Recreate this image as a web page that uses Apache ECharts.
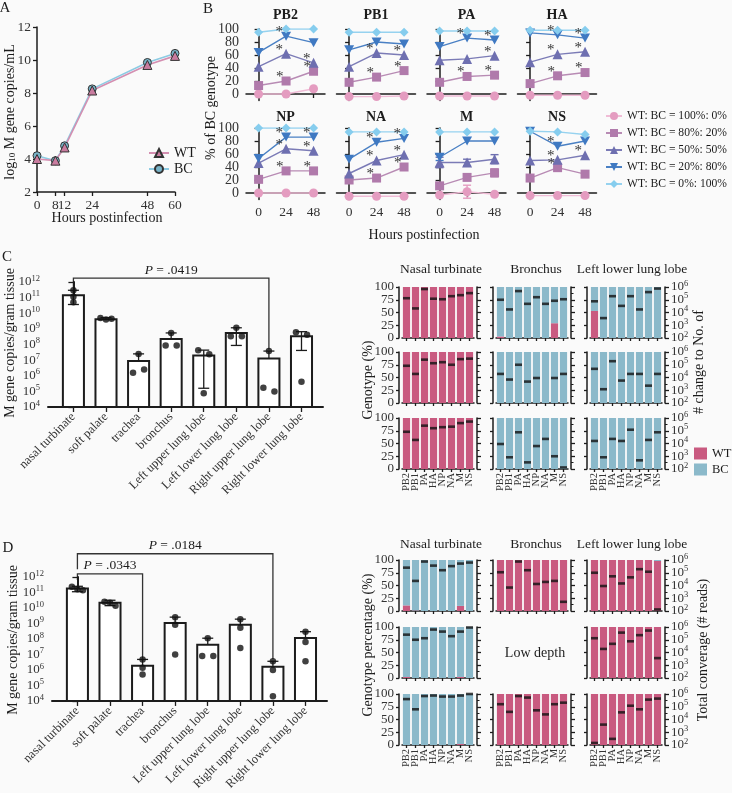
<!DOCTYPE html>
<html>
<head>
<meta charset="utf-8">
<script src="https://cdn.jsdelivr.net/npm/echarts@6/dist/echarts.min.js"></script>
<style>
  html, body { margin: 0; background: #fafafa; }
  #fig { width: 732px; height: 793px; }
</style>
</head>
<body>
<div id="fig"></div>
<script>
const FONT = '"Liberation Serif", "DejaVu Serif", serif';
const INK = "#1c1c1c";
const PINK = "#c95a80";
const BLUE = "#8bb9ca";

// ---- panel A: viral load over time ----
const aHours = [0, 8, 12, 24, 48, 60];
const aWT = [4.0, 3.9, 4.7, 8.15, 9.7, 10.25];
const aBC = [4.2, 3.9, 4.8, 8.25, 9.85, 10.4];
const aTicksY = [2, 4, 6, 8, 10, 12];

// ---- panel B: % of BC genotype per gene segment ----
const bHours = [0, 24, 48];
const bGenes = ["PB2", "PB1", "PA", "HA", "NP", "NA", "M", "NS"];
const bMixes = ["WT: BC = 100%: 0%", "WT: BC = 80%: 20%", "WT: BC = 50%: 50%", "WT: BC = 20%: 80%", "WT: BC = 0%: 100%"];
const bPctTicks = [0, 20, 40, 60, 80, 100];
const bPB2 = [[0, 0, 8], [13, 20, 35], [42, 62, 48], [64, 89, 79], [95, 100, 100]];
const bPB1 = [[-4, -4, -3], [18, 26, 36], [42, 63, 60], [68, 80, 77], [95, 95, 95]];
const bPA = [[-3, -3, -3], [18, 27, 29], [52, 54, 59], [73, 86, 83], [97, 97, 97]];
const bHA = [[-2, -2, -2], [16, 28, 33], [49, 61, 65], [94, 91, 86], [98, 98, 98]];
const bNP = [[0, 0, 0], [21, 34, 34], [46, 68, 65], [53, 86, 86], [100, 100, 100]];
const bNA = [[-5, -5, -5], [20, 23, 40], [30, 50, 59], [52, 78, 84], [94, 94, 94]];
const bM = [[-3, 2, -2], [11, 24, 31], [47, 47, 52], [55, 80, 80], [94, 94, 94]];
const bNS = [[-4, -4, -4], [23, 39, 29], [50, 51, 58], [95, 72, 80], [95, 94, 90]];
const bMErr = [[0, 10, 0], [0, 0, 6], [8, 5, 7], [5, 0, 0], [0, 0, 0]];
// significant points as [series, time index]
const bStars = [
  [[3, 1], [2, 1], [2, 2], [1, 1], [1, 2]],
  [[2, 1], [2, 2], [1, 1], [1, 2]],
  [[3, 1], [3, 2], [2, 2], [1, 1], [1, 2]],
  [[3, 1], [3, 2], [2, 1], [2, 2], [1, 1], [1, 2]],
  [[3, 1], [3, 2], [2, 1], [2, 2], [1, 1], [1, 2]],
  [[3, 1], [3, 2], [2, 1], [2, 2], [1, 1], [1, 2]],
  [],
  [[3, 1], [2, 1], [2, 2], [1, 1]]
];

// ---- panels C / D: tissue loads (log10 copies per gram) ----
const tissues = ["nasal turbinate", "soft palate", "trachea", "bronchus", "Left upper lung lobe", "Left lower lung lobe", "Right upper lung lobe", "Right lower lung lobe"];
const logTicks = [4, 5, 6, 7, 8, 9, 10, 11, 12];
const cMean = [11.15, 9.62, 6.95, 8.36, 7.3, 8.74, 7.1, 8.53];
const cHi = [11.47, 9.72, 7.4, 8.74, 7.64, 9.07, 7.58, 8.82];
const cLo = [10.56, null, null, null, 5.2, 7.94, null, 7.62];
const cDots = [[11.47, 11.05, 10.7], [9.7, 9.6, 9.65], [7.4, 6.2, 6.4], [8.74, 7.94, 7.94], [7.64, 7.37, 4.88], [9.07, 8.53, 8.53], [7.58, 5.24, 4.99], [8.78, 8.63, 5.62]];
const dMean = [11.26, 10.34, 6.28, 9.03, 7.63, 8.92, 6.2, 8.07];
const dHi = [11.4, 10.5, 6.68, 9.41, 8.05, 9.28, 6.56, 8.47];
const dLo = [11.05, 10.15, null, null, null, null, null, null];
const dDots = [[11.37, 11.21, 11.15], [10.4, 10.34, 10.15], [6.68, 6.15, 5.7], [9.41, 8.92, 7.0], [8.05, 6.9, 6.9], [9.28, 8.73, 7.41], [6.56, 6.0, 4.3], [8.47, 7.8, 6.56]];

// ---- genotype stacks: WT % and log10 coverage per segment ----
const segs = ["PB2", "PB1", "PA", "HA", "NP", "NA", "M", "NS"];
const seqTissues = ["Nasal turbinate", "Bronchus", "Left lower lung lobe"];
const pctTicks = [0, 25, 50, 75, 100];
const covTicks = [2, 3, 4, 5, 6];
const ALL = [100, 100, 100, 100, 100, 100, 100, 100];
const NONE = [0, 0, 0, 0, 0, 0, 0, 0];
const cWt1 = [ALL, [3, 0, 0, 0, 0, 0, 29, 0], [53, 0, 0, 0, 0, 0, 0, 0]];
const cWt2 = [ALL, NONE, NONE];
const cWt3 = [ALL, NONE, NONE];
const cCov1 = [[5.12, 4.32, 5.84, 5.08, 5.04, 5.28, 5.36, 5.52], [5.0, 4.24, 5.68, 4.68, 5.2, 4.68, 4.92, 5.04], [4.88, 3.56, 5.28, 4.52, 5.28, 4.24, 5.6, 5.88]];
const cCov2 = [[4.92, 4.28, 5.4, 5.12, 5.2, 5.0, 5.44, 5.48], [4.28, 3.84, 5.0, 3.68, 3.96, null, 3.96, 4.28], [4.68, 3.08, 5.28, 3.76, 4.28, 4.28, 3.36, 4.28]];
const cCov3 = [[4.92, 4.28, 5.4, 5.2, 5.28, 5.32, 5.6, 5.72], [3.96, 2.92, 4.88, 2.52, 3.8, 4.36, 3.0, 2.12], [4.2, 2.92, 4.36, 4.2, 5.08, 2.68, 4.28, 4.88]];
const dWt1 = [[11, 1, 0, 0, 0, 0, 10, 0], ALL, [100, 100, 100, 100, 100, 100, 100, 98]];
const dWt2 = [[2, 0, 0, 0, 0, 0, 2, 0], null, ALL];
const dWt3 = [[0, 0, 0, 0, 0, 0, 2, 0], ALL, ALL];
const dCov1 = [[5.4, 4.36, 5.88, 5.56, 5.2, 5.52, 5.72, 5.8], [5.04, 3.84, 5.88, 5.2, 4.12, 4.28, 4.36, 2.72], [5.0, 3.96, 4.72, 4.16, 4.64, 5.28, 5.08, 2.12]];
const dCov2 = [[5.4, 5.0, 5.12, 5.8, 5.64, 5.28, 5.64, 5.96], null, [5.12, 4.28, 4.68, 5.56, 4.88, 5.36, 5.72, 3.56]];
const dCov3 = [[5.6, 4.8, 5.84, 5.88, 5.8, 5.8, 5.88, 6.0], [5.2, 4.6, 5.84, 5.72, 4.72, 4.4, 5.2, 5.32], [2.16, 3.6, 2.48, 4.56, 5.08, 4.8, 5.56, 5.64]];

const grids = [], xAxes = [], yAxes = [], series = [], graphics = [];
// y tick labels are placed by hand after layout: [yAxisIndex, x, align, values, size, power?]
const yLabelJobs = [];

const axLine = { show: true, lineStyle: { color: INK, width: 1.5 } };
function tick(len, extra) { return Object.assign({ show: true, length: len, lineStyle: { color: INK, width: 1.3 } }, extra || {}); }
function lab(show, size, extra) {
  return Object.assign({ show, color: "#333", fontFamily: FONT, fontSize: size, showMinLabel: true, showMaxLabel: true }, extra || {});
}
const noLabel = { show: false };

function txt(x, y, text, opt) {
  opt = opt || {};
  graphics.push({
    type: "text", x, y, rotation: opt.rot || 0, silent: true,
    style: { text, fontFamily: FONT, fontSize: opt.size || 14, fontWeight: opt.bold ? "bold" : "normal",
      fill: opt.fill || INK, align: opt.align || "center", verticalAlign: "middle", rich: opt.rich }
  });
}

// ================= A =================
(function () {
  const gi = grids.length;
  grids.push({ left: 37, top: 27, width: 138, height: 165 });
  const xi = xAxes.length, yi = yAxes.length;
  xAxes.push({ gridIndex: gi, type: "value", min: 0, max: 60, axisLine: axLine, splitLine: { show: false },
    axisTick: tick(4, { customValues: aHours }), axisLabel: lab(true, 13.5, { customValues: aHours, margin: 6 }) });
  yAxes.push({ gridIndex: gi, type: "value", min: 2, max: 12, interval: 2, axisLine: axLine, splitLine: { show: false },
    axisTick: tick(4), axisLabel: noLabel });
  yLabelJobs.push([yi, 31, "right", aTicksY, 13.5, false]);
  series.push({ type: "line", name: "A-BC", xAxisIndex: xi, yAxisIndex: yi, data: aHours.map((h, i) => [h, aBC[i]]),
    symbol: "circle", symbolSize: 8, itemStyle: { color: "#78b3c8", borderColor: "#333", borderWidth: 1 },
    lineStyle: { color: "#8ccbe3", width: 1.6 } });
  series.push({ type: "line", name: "A-WT", xAxisIndex: xi, yAxisIndex: yi, data: aHours.map((h, i) => [h, aWT[i]]),
    symbol: "triangle", symbolSize: 9, itemStyle: { color: "#c97c9f", borderColor: "#333", borderWidth: 1 },
    lineStyle: { color: "#d48fb1", width: 1.6 } });
  txt(5, 8, "A", { size: 15 });
  txt(10, 112, "log{s|10} M gene copies/mL", { rot: Math.PI / 2, size: 14,
    rich: { s: { fontFamily: FONT, fontSize: 9, fill: INK, padding: [6, 0, 0, 0] } } });
  txt(107, 218, "Hours postinfection", { size: 14 });
})();

// ================= B =================
const bData = [bPB2, bPB1, bPA, bHA, bNP, bNA, bM, bNS];
const bColors = ["#e49cc0", "#b07aab", "#6e6fb0", "#3f79c2", "#86cdee"];
const bLines = ["#f0bcd6", "#b88bb4", "#7b7bb6", "#4a80c4", "#96d2ef"];
const bSymbols = ["circle", "rect", "triangle", "path://M0,0L10,0L5,9Z", "diamond"];
const bSizes = [9, 9, 10, 10, 9];
bGenes.forEach((gene, g) => {
  const row = Math.floor(g / 4), col = g % 4;
  const left = 246 + 90.5 * col, top = row === 0 ? 29 : 128;
  const gi = grids.length;
  grids.push({ left, top, width: 79, height: 71.5 });
  const xi = xAxes.length, yi = yAxes.length;
  xAxes.push({ gridIndex: gi, type: "value", min: -11, max: 58, axisLine: axLine, splitLine: { show: false },
    axisTick: tick(4, { customValues: bHours }), axisLabel: lab(row === 1, 13.5, { customValues: bHours, margin: 6 }) });
  yAxes.push({ gridIndex: gi, type: "value", min: -10, max: 100, axisLine: axLine, splitLine: { show: false },
    axisTick: tick(4, { customValues: bPctTicks }), axisLabel: noLabel });
  if (col === 0) yLabelJobs.push([yi, left - 7, "right", bPctTicks, 14, false]);
  txt(left + 39.5, row === 0 ? 15 : 117, gene, { bold: true, size: 14 });
  const stars = new Set(bStars[g].map(p => p[0] + ":" + p[1]));
  bData[g].forEach((vals, s) => {
    series.push({
      type: "line", name: bMixes[s], xAxisIndex: xi, yAxisIndex: yi, z: 3,
      data: vals.map((v, t) => stars.has(s + ":" + t) ? { value: [bHours[t], v], label: { show: true } } : [bHours[t], v]),
      symbol: bSymbols[s], symbolSize: bSizes[s], symbolKeepAspect: true,
      itemStyle: { color: bColors[s] }, lineStyle: { color: bLines[s], width: 1.4 },
      label: { show: false, formatter: "*", position: "left", distance: 0, offset: [2, -4], fontSize: 15, color: "#333", fontFamily: FONT }
    });
  });
  if (gene === "M") {
    const errData = [];
    bM.forEach((vals, s) => vals.forEach((v, t) => { if (bMErr[s][t] > 0) errData.push([bHours[t], v, bMErr[s][t], s]); }));
    series.push({
      type: "custom", xAxisIndex: xi, yAxisIndex: yi, z: 2, data: errData, encode: { x: 0, y: 1 },
      renderItem: (params, api) => {
        const x = api.value(0), v = api.value(1), e = api.value(2), c = bColors[api.value(3)];
        const a = api.coord([x, v + e]), b = api.coord([x, v - e]);
        const st = { stroke: c, lineWidth: 1.4 };
        return { type: "group", children: [
          { type: "line", shape: { x1: a[0], y1: a[1], x2: b[0], y2: b[1] }, style: st },
          { type: "line", shape: { x1: a[0] - 4, y1: a[1], x2: a[0] + 4, y2: a[1] }, style: st },
          { type: "line", shape: { x1: b[0] - 4, y1: b[1], x2: b[0] + 4, y2: b[1] }, style: st }
        ] };
      }
    });
  }
});
txt(208, 9, "B", { size: 15 });
txt(211, 108, "% of BC genotype", { rot: Math.PI / 2, size: 14 });
txt(424, 235, "Hours postinfection", { size: 14 });

// ================= C / D bar charts =================
function jitter(vals, span) {
  return vals.map((v, k) => {
    const near = vals.map((u, j) => [u, j]).filter(p => Math.abs(p[0] - v) < 0.3);
    if (near.length < 2) return 0;
    const rank = near.findIndex(p => p[1] === k);
    return (rank / (near.length - 1) - 0.5) * span;
  });
}
const barGrids = {};
function addBarPanel(key, left, top, mean, hi, lo, dots) {
  const gi = grids.length;
  barGrids[key] = gi;
  grids.push({ left, top, width: 275, height: 125 });
  const xi = xAxes.length, yi = yAxes.length;
  const idx = tissues.map((t, i) => i);
  xAxes.push({ gridIndex: gi, type: "value", min: -0.78, max: 7.66, axisLine: { show: true, lineStyle: { color: INK, width: 2 } }, splitLine: { show: false },
    axisTick: tick(5, { customValues: idx }),
    axisLabel: lab(true, 12.5, { customValues: idx, rotate: 45, margin: 8, formatter: v => tissues[Math.round(v)] }) });
  yAxes.push({ gridIndex: gi, type: "value", min: 4, max: 12, interval: 1, axisLine: { show: true, lineStyle: { color: INK, width: 2 } }, splitLine: { show: false },
    axisTick: tick(5), axisLabel: noLabel });
  yLabelJobs.push([yi, left - 8, "right", logTicks, 13, true]);
  series.push({
    type: "custom", xAxisIndex: xi, yAxisIndex: yi, z: 2, data: mean.map((m, i) => [i, m]), encode: { x: 0, y: 1 },
    renderItem: (params, api) => {
      const i = api.value(0), m = api.value(1);
      const p1 = api.coord([i, m]), p0 = api.coord([i, 4]);
      const w = api.size([0.646, 0])[0];
      return { type: "rect", shape: { x: p1[0] - w / 2, y: p1[1], width: w, height: p0[1] - p1[1] },
        style: { fill: "#ffffff", stroke: INK, lineWidth: 2 } };
    }
  });
  series.push({
    type: "custom", xAxisIndex: xi, yAxisIndex: yi, z: 3, data: mean.map((m, i) => [i, hi[i], lo[i] == null ? -1 : lo[i], m]), encode: { x: 0, y: 1 },
    renderItem: (params, api) => {
      const i = api.value(0), h = api.value(1), l = api.value(2), m = api.value(3);
      const a = api.coord([i, h]), b = api.coord([i, l > 0 ? l : m]);
      const st = { stroke: INK, lineWidth: 1.3 };
      const kids = [
        { type: "line", shape: { x1: a[0], y1: a[1], x2: b[0], y2: b[1] }, style: st },
        { type: "line", shape: { x1: a[0] - 5.5, y1: a[1], x2: a[0] + 5.5, y2: a[1] }, style: st }
      ];
      if (l > 0) kids.push({ type: "line", shape: { x1: b[0] - 5.5, y1: b[1], x2: b[0] + 5.5, y2: b[1] }, style: st });
      return { type: "group", children: kids };
    }
  });
  const pts = [];
  dots.forEach((vals, i) => { const jit = jitter(vals, 0.34); vals.forEach((v, k) => pts.push([i + jit[k], v])); });
  series.push({ type: "scatter", xAxisIndex: xi, yAxisIndex: yi, z: 4, data: pts, symbolSize: 6.5, itemStyle: { color: "#111" } });
}
addBarPanel("C", 48, 282, cMean, cHi, cLo, cDots);
addBarPanel("D", 52, 577, dMean, dHi, dLo, dDots);
txt(7, 257, "C", { size: 15 });
txt(8, 548, "D", { size: 15 });
txt(10, 343, "M gene copies/gram tissue", { rot: Math.PI / 2, size: 14 });
txt(13, 640, "M gene copies/gram tissue", { rot: Math.PI / 2, size: 14 });

// significance brackets: [panel, from, to, bracket level, left foot, right foot, label]
const brackets = [
  ["C", 0, 6, 12.25, 11.6, 7.68, ".0419"],
  ["D", 0, 6, 13.5, 12.5, 6.7, ".0184"],
  ["D", 0, 2, 12.2, 11.8, 6.72, ".0343"]
];

// ================= genotype stacks =================
function addStack(left, top, wt, cov, showX, showLeft, showRight) {
  const gi = grids.length;
  grids.push({ left: left + 3, top, width: 72, height: 51 });
  const xi = xAxes.length, yi = yAxes.length;
  xAxes.push({ gridIndex: gi, type: "category", data: segs, boundaryGap: true, axisLine: axLine, splitLine: { show: false },
    axisTick: tick(3, { alignWithLabel: true }), axisLabel: lab(showX, 10.5, { rotate: 90, margin: 4, interval: 0 }) });
  yAxes.push({ gridIndex: gi, type: "value", min: 0, max: 100, interval: 25, offset: 3, axisLine: axLine, splitLine: { show: false },
    axisTick: tick(3), axisLabel: noLabel });
  yAxes.push({ gridIndex: gi, type: "value", position: "right", min: 2, max: 6, interval: 1, offset: 3, axisLine: axLine, splitLine: { show: false },
    axisTick: tick(4), minorTick: { show: true, splitNumber: 2, length: 2.5, lineStyle: { color: INK, width: 1 } }, axisLabel: noLabel });
  if (showLeft) yLabelJobs.push([yi, left - 5, "right", pctTicks, 13, false]);
  if (showRight) yLabelJobs.push([yi + 1, left + 84, "left", covTicks, 13, true]);
  series.push({ type: "bar", name: "WT", xAxisIndex: xi, yAxisIndex: yi, stack: "g" + gi, data: wt, barCategoryGap: "20%", itemStyle: { color: PINK } });
  series.push({ type: "bar", name: "BC", xAxisIndex: xi, yAxisIndex: yi, stack: "g" + gi, data: wt.map(v => 100 - v), barCategoryGap: "20%", itemStyle: { color: BLUE } });
  series.push({ type: "scatter", xAxisIndex: xi, yAxisIndex: yi + 1, z: 4, data: cov.map(v => v == null ? "-" : v),
    symbol: "rect", symbolSize: [7, 2.6], itemStyle: { color: "#111" } });
}
const colLefts = [399, 493, 587];
const colMid = [441, 536, 632];
[[cWt1, cCov1], [cWt2, cCov2], [cWt3, cCov3]].forEach((pair, r) => {
  colLefts.forEach((x, c) => addStack(x, [287, 352, 418][r], pair[0][c], pair[1][c], r === 2, c === 0, c === 2));
});
[[dWt1, dCov1], [dWt2, dCov2], [dWt3, dCov3]].forEach((pair, r) => {
  colLefts.forEach((x, c) => { if (pair[0][c]) addStack(x, [560, 627, 694][r], pair[0][c], pair[1][c], r === 2, c === 0, c === 2); });
});
seqTissues.forEach((t, c) => { txt(colMid[c], 269, t, { size: 13.5 }); txt(colMid[c], 544, t, { size: 13.5 }); });
txt(368, 380, "Genotype (%)", { rot: Math.PI / 2, size: 14 });
txt(699, 362, "# change to No. of", { rot: Math.PI / 2, size: 14 });
txt(368, 645, "Genotype percentage (%)", { rot: Math.PI / 2, size: 14 });
txt(703, 650, "Total converage (# reads)", { rot: Math.PI / 2, size: 14 });
txt(535, 653, "Low depth", { size: 14 });

const legendText = { fontFamily: FONT, fontSize: 11.6, color: INK };
const chart = echarts.init(document.getElementById("fig"));
chart.setOption({
  animation: false,
  backgroundColor: "#fafafa",
  textStyle: { fontFamily: FONT },
  grid: grids,
  xAxis: xAxes,
  yAxis: yAxes,
  series: series,
  legend: [
    { data: ["A-WT", "A-BC"], orient: "vertical", left: 143, top: 141, itemGap: 2, itemWidth: 20, itemHeight: 10,
      selectedMode: false, formatter: n => n.slice(2), textStyle: Object.assign({}, legendText, { fontSize: 14 }) },
    { data: bMixes, orient: "vertical", left: 600, top: 105, itemGap: 5, itemWidth: 16, itemHeight: 10,
      selectedMode: false, textStyle: legendText },
    { data: ["WT", "BC"], orient: "vertical", left: 689, top: 442, itemGap: 3, itemWidth: 13, itemHeight: 12,
      icon: "rect", selectedMode: false, textStyle: Object.assign({}, legendText, { fontSize: 12.5 }) }
  ],
  graphic: graphics
});

// y tick labels, placed through each axis scale
yLabelJobs.forEach(job => {
  const [yi, x, align, values, size, power] = job;
  values.forEach(v => {
    const y = chart.convertToPixel({ yAxisIndex: yi }, v);
    if (power) {
      txt(x, y, "{b|10}{s|" + v + "}", { size, align, fill: "#333",
        rich: { b: { fontFamily: FONT, fontSize: size, fill: "#333" },
                s: { fontFamily: FONT, fontSize: 8.5, fill: "#333", padding: [0, 0, 7, 0] } } });
    } else {
      txt(x, y, String(v), { size, align, fill: "#333" });
    }
  });
});

// brackets drawn through the bar chart coordinate systems
brackets.forEach(b => {
  const gi = barGrids[b[0]];
  const p = (x, y) => chart.convertToPixel({ gridIndex: gi }, [x, y]);
  const l0 = p(b[1], b[4]), l1 = p(b[1], b[3]), r1 = p(b[2], b[3]), r0 = p(b[2], b[5]);
  graphics.push({ type: "polyline", silent: true, shape: { points: [l0, l1, r1, r0] }, style: { stroke: "#333", lineWidth: 1.3, fill: null } });
  txt((l1[0] + r1[0]) / 2, l1[1] - 8, "{i|P} = " + b[6], { size: 13.5,
    rich: { i: { fontFamily: FONT, fontSize: 13.5, fontStyle: "italic", fill: INK } } });
});
chart.setOption({ graphic: graphics });
</script>
</body>
</html>
